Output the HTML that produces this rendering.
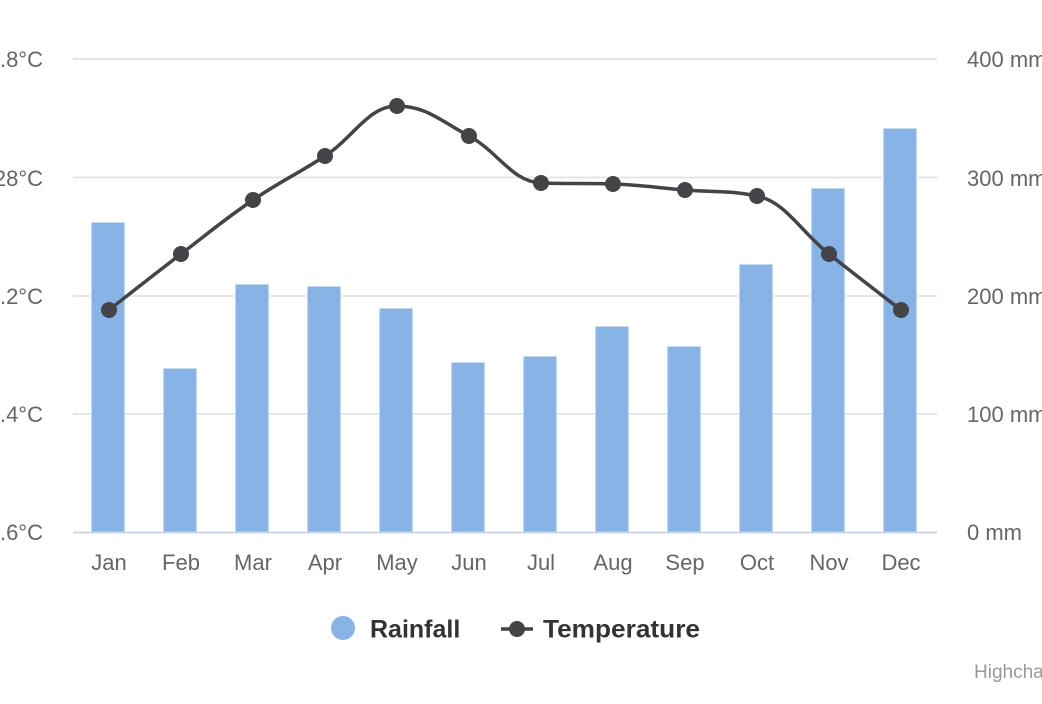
<!DOCTYPE html>
<html>
<head>
<meta charset="utf-8">
<style>
  html, body { margin: 0; padding: 0; background: #ffffff; }
  body { width: 1042px; height: 704px; overflow: hidden; }
  svg { display: block; }
  text { font-family: "Liberation Sans", "DejaVu Sans", sans-serif; }
</style>
</head>
<body>
<svg width="1042" height="704" viewBox="0 0 1042 704" xmlns="http://www.w3.org/2000/svg">
  <rect x="0" y="0" width="1042" height="704" fill="#ffffff"/>

  <!-- grid lines -->
  <g stroke="#e6e6e6" stroke-width="2" fill="none">
    <line x1="73" y1="59" x2="937" y2="59"/>
    <line x1="73" y1="177.5" x2="937" y2="177.5"/>
    <line x1="73" y1="296" x2="937" y2="296"/>
    <line x1="73" y1="414" x2="937" y2="414"/>
  </g>

  <!-- columns -->
  <g fill="#87b3e6" stroke="#ffffff" stroke-width="1">
    <rect x="91" y="222" width="34" height="310"/>
    <rect x="163" y="368" width="34" height="164"/>
    <rect x="235" y="284" width="34" height="248"/>
    <rect x="307" y="286" width="34" height="246"/>
    <rect x="379" y="308" width="34" height="224"/>
    <rect x="451" y="362" width="34" height="170"/>
    <rect x="523" y="356" width="34" height="176"/>
    <rect x="595" y="326" width="34" height="206"/>
    <rect x="667" y="346" width="34" height="186"/>
    <rect x="739" y="264" width="34" height="268"/>
    <rect x="811" y="188" width="34" height="344"/>
    <rect x="883" y="128" width="34" height="404"/>
  </g>

  <!-- x axis line -->
  <line x1="73" y1="532.5" x2="937" y2="532.5" stroke="#ccd6eb" stroke-width="2"/>

  <!-- temperature spline -->
  <path d="M 109 310
           C 109 310 152.2 276 181 254
           C 209.8 232 224.2 219.6 253 200
           C 281.8 180.4 296.2 174.8 325 156
           C 353.8 137.2 368.2 106 397 106
           C 425.8 106 440.2 120.6 469 136
           C 497.8 151.4 512.2 182 541 183
           C 569.8 184 584.2 183 613 184
           C 641.8 185 656.2 187.6 685 190
           C 713.8 192.4 728.2 190 757 196
           C 785.8 202 800.2 231.2 829 254
           C 857.8 276.8 901 310 901 310"
        fill="none" stroke="#434348" stroke-width="3.5" stroke-linejoin="round" stroke-linecap="round"/>
  <g fill="#434348">
    <circle cx="109" cy="310" r="8"/>
    <circle cx="181" cy="254" r="8"/>
    <circle cx="253" cy="200" r="8"/>
    <circle cx="325" cy="156" r="8"/>
    <circle cx="397" cy="106" r="8"/>
    <circle cx="469" cy="136" r="8"/>
    <circle cx="541" cy="183" r="8"/>
    <circle cx="613" cy="184" r="8"/>
    <circle cx="685" cy="190" r="8"/>
    <circle cx="757" cy="196" r="8"/>
    <circle cx="829" cy="254" r="8"/>
    <circle cx="901" cy="310" r="8"/>
  </g>

  <!-- left axis labels -->
  <g fill="#666666" font-size="22" text-anchor="end">
    <text x="43" y="67">31.8°C</text>
    <text x="43" y="186">28°C</text>
    <text x="43" y="304">24.2°C</text>
    <text x="43" y="422">20.4°C</text>
    <text x="43" y="540">16.6°C</text>
  </g>

  <!-- right axis labels -->
  <g fill="#666666" font-size="22" text-anchor="start">
    <text x="967" y="67">400 mm</text>
    <text x="967" y="186">300 mm</text>
    <text x="967" y="304">200 mm</text>
    <text x="967" y="422">100 mm</text>
    <text x="967" y="540">0 mm</text>
  </g>

  <!-- x axis labels -->
  <g fill="#666666" font-size="22" text-anchor="middle">
    <text x="109" y="570">Jan</text>
    <text x="181" y="570">Feb</text>
    <text x="253" y="570">Mar</text>
    <text x="325" y="570">Apr</text>
    <text x="397" y="570">May</text>
    <text x="469" y="570">Jun</text>
    <text x="541" y="570">Jul</text>
    <text x="613" y="570">Aug</text>
    <text x="685" y="570">Sep</text>
    <text x="757" y="570">Oct</text>
    <text x="829" y="570">Nov</text>
    <text x="901" y="570">Dec</text>
  </g>

  <!-- legend -->
  <circle cx="343" cy="628" r="12" fill="#87b3e6"/>
  <text x="370" y="637.5" font-size="25" font-weight="bold" fill="#333333">Rainfall</text>
  <line x1="501" y1="629" x2="533" y2="629" stroke="#434348" stroke-width="3.5"/>
  <circle cx="517" cy="629" r="8" fill="#434348"/>
  <text x="543" y="637.5" font-size="25" font-weight="bold" fill="#333333" textLength="157" lengthAdjust="spacingAndGlyphs">Temperature</text>

  <!-- credits -->
  <text x="974" y="678" font-size="19" fill="#999999">Highcharts.com</text>
</svg>
</body>
</html>
